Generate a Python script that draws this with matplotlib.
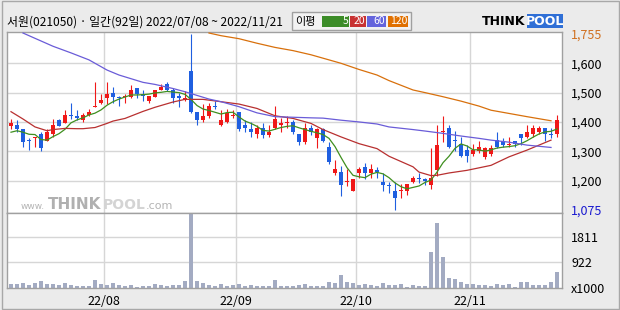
import matplotlib
matplotlib.use('Agg')
import matplotlib.pyplot as plt
from matplotlib.patches import Rectangle
import numpy as np
import pandas as pd

plt.rcParams['font.family'] = ['Noto Sans CJK KR', 'DejaVu Sans']

# trading days 2022/07/08 ~ 2022/11/21 (KRX holidays removed)
holidays = ['2022-08-15', '2022-09-09', '2022-09-12', '2022-10-03', '2022-10-10']
dates = pd.bdate_range('2022-07-08', '2022-11-21', freq='C', holidays=holidays)

opens = [1385, 1390, 1375, 1340, 1345, 1360, 1335, 1360, 1405, 1395, 1425, 1420, 1405, 1425, 1450, 1465,
         1480, 1500, 1485, 1485, 1485, 1515, 1495, 1470, 1485, 1510, 1530, 1510, 1490, 1475, 1575, 1435,
         1405, 1420, 1455, 1390, 1400, 1420, 1435, 1390, 1375, 1360, 1380, 1355, 1380, 1390, 1395, 1400,
         1360, 1330, 1380, 1345, 1375, 1315, 1225, 1230, 1195, 1155, 1225, 1245, 1225, 1235, 1195, 1180,
         1155, 1155, 1155, 1195, 1210, 1205, 1180, 1235, 1365, 1380, 1340, 1325, 1305, 1290, 1300, 1280,
         1290, 1340, 1335, 1320, 1335, 1360, 1350, 1360, 1365, 1380, 1360, 1360]
highs = [1410, 1405, 1375, 1345, 1350, 1365, 1375, 1410, 1410, 1440, 1465, 1440, 1430, 1445, 1535, 1495,
         1535, 1520, 1490, 1495, 1525, 1515, 1510, 1490, 1510, 1530, 1535, 1515, 1500, 1505, 1755, 1435,
         1460, 1465, 1470, 1440, 1445, 1440, 1435, 1405, 1400, 1390, 1395, 1390, 1455, 1415, 1420, 1405,
         1360, 1395, 1390, 1380, 1380, 1330, 1270, 1250, 1240, 1205, 1245, 1260, 1255, 1245, 1225, 1195,
         1195, 1185, 1185, 1215, 1225, 1210, 1310, 1390, 1420, 1390, 1370, 1350, 1320, 1325, 1335, 1315,
         1320, 1365, 1345, 1350, 1335, 1360, 1390, 1390, 1385, 1380, 1380, 1425]
lows = [1375, 1365, 1315, 1305, 1315, 1300, 1335, 1350, 1385, 1395, 1410, 1405, 1400, 1420, 1450, 1460,
        1460, 1465, 1455, 1465, 1480, 1480, 1470, 1465, 1485, 1510, 1505, 1465, 1450, 1470, 1430, 1390,
        1400, 1415, 1445, 1385, 1395, 1415, 1370, 1365, 1350, 1345, 1345, 1350, 1375, 1365, 1380, 1360,
        1320, 1325, 1355, 1310, 1330, 1255, 1220, 1135, 1175, 1155, 1210, 1205, 1210, 1210, 1155, 1145,
        1075, 1125, 1140, 1190, 1190, 1180, 1165, 1215, 1330, 1310, 1300, 1280, 1265, 1285, 1295, 1275,
        1285, 1310, 1315, 1315, 1315, 1320, 1345, 1350, 1360, 1335, 1345, 1350]
closes = [1395, 1375, 1330, 1335, 1350, 1310, 1365, 1390, 1385, 1425, 1420, 1415, 1425, 1435, 1455, 1475,
          1495, 1485, 1480, 1490, 1510, 1495, 1490, 1490, 1510, 1520, 1510, 1480, 1480, 1480, 1435, 1405,
          1420, 1455, 1450, 1405, 1430, 1425, 1375, 1380, 1365, 1380, 1355, 1365, 1410, 1395, 1400, 1365,
          1330, 1380, 1365, 1375, 1335, 1265, 1240, 1180, 1200, 1205, 1240, 1225, 1240, 1230, 1180, 1175,
          1125, 1160, 1185, 1210, 1205, 1200, 1210, 1320, 1370, 1315, 1335, 1285, 1285, 1305, 1315, 1310,
          1310, 1315, 1320, 1325, 1325, 1345, 1365, 1380, 1380, 1360, 1355, 1405]
volumes = [155, 155, 190, 119, 190, 262, 131, 155, 119, 190, 119, 83, 83, 83, 298, 155,
           119, 190, 119, 83, 119, 48, 83, 83, 155, 119, 83, 119, 119, 262, 2645, 262,
           190, 119, 83, 155, 83, 119, 155, 83, 119, 83, 83, 83, 298, 83, 83, 83,
           119, 155, 83, 83, 83, 226, 190, 476, 226, 190, 119, 155, 119, 83, 190, 119,
           119, 155, 48, 119, 83, 83, 1297, 2332, 1119, 369, 333, 226, 155, 155, 119, 119,
           83, 155, 119, 155, 48, 226, 226, 119, 119, 119, 226, 583]

# moving averages (earlier history is not in the window)
ma5_head = [1365, 1370, 1365, 1358]
ma20_idx = [0, 2, 4, 6, 7, 9, 11, 12, 14, 16, 17, 19, 21, 22, 24, 27, 29, 32, 35, 38, 41, 44, 47, 50, 52,
            55, 58, 61, 63, 67, 68, 70, 71, 73, 76, 80, 83, 86, 90]
ma20_val = [1435, 1410, 1383, 1370, 1374, 1378, 1377, 1377, 1381, 1395, 1403, 1412, 1428, 1436, 1450,
            1468, 1477, 1477, 1469, 1461, 1446, 1421, 1412, 1395, 1374, 1349, 1326, 1309, 1283, 1247,
            1229, 1217, 1218, 1226, 1235, 1252, 1281, 1304, 1338]
ma60_idx = [2, 4, 7, 10, 13, 16, 18, 22, 24, 27, 29, 33, 35, 38, 41, 44, 50, 52, 55, 58, 61, 63, 67, 69,
            72, 75, 78, 80, 83, 86, 90]
ma60_val = [1760, 1732, 1690, 1655, 1618, 1577, 1560, 1535, 1528, 1514, 1503, 1478, 1469, 1452, 1431,
            1418, 1414, 1413, 1406, 1400, 1393, 1383, 1374, 1369, 1361, 1352, 1344, 1338, 1331, 1321, 1313]
ma120_idx = [33, 35, 38, 41, 44, 47, 50, 53, 55, 58, 61, 63, 67, 69, 72, 75, 78, 80, 83, 86, 90]
ma120_val = [1760, 1746, 1730, 1706, 1684, 1667, 1645, 1618, 1600, 1579, 1560, 1541, 1509, 1500, 1486,
             1471, 1454, 1440, 1429, 1418, 1404]

price_ticks = [1075, 1200, 1300, 1400, 1500, 1600, 1755]
vol_ticks = [0, 922, 1811]

RED = '#f01818'
BLUE = '#1f5fe0'
BG = '#ebebeb'
GRID = '#d6d6d6'
EDGE = '#a0a0a0'

n = len(dates)
x = np.arange(n)
o = np.array(opens); h = np.array(highs); l = np.array(lows); c = np.array(closes)
ma5 = pd.Series(closes).rolling(5).mean().to_numpy()
ma5[:4] = ma5_head

# chart spaces the labelled prices evenly (extremes get one slot each)
knots = np.array([1075 - 125] + price_ticks + [1755 + 155], dtype=float)
slots = np.arange(-1, len(price_ticks) + 1, dtype=float)
def fwd(v):
    return np.interp(v, knots, slots, left=-1, right=len(price_ticks))
def inv(s):
    return np.interp(s, slots, knots)

def fx(px):
    return px / 620
def fy(py):
    return 1 - py / 310

fig = plt.figure(figsize=(6.2, 3.1), dpi=100, facecolor=BG)
ax = fig.add_axes([fx(7), fy(212.5), 555 / 620, 180.8 / 310])
axv = fig.add_axes([fx(7), fy(288), 555 / 620, 75.5 / 310], sharex=ax)

ax.set_yscale('function', functions=(fwd, inv))
ax.set_ylim(1064, 1767)
ax.set_xlim(-0.667, 91.83)

month_starts = [i for i in range(1, n) if dates[i].month != dates[i - 1].month]
for a in (ax, axv):
    a.set_facecolor('white')
    for i in month_starts:
        a.axvline(i - 0.5, color=GRID, lw=1, zorder=0)
    for s in a.spines.values():
        s.set_color(EDGE)
        s.set_linewidth(1)
for v in price_ticks[1:-1]:
    ax.axhline(v, color=GRID, lw=1, zorder=0)

up = c >= o
colors = np.where(up, RED, BLUE)
ax.vlines(x, l, h, colors=colors, lw=0.8, zorder=2)
bottoms = np.minimum(o, c)
heights = np.maximum(np.abs(c - o), 3)
ax.bar(x, heights, bottom=bottoms, width=0.8, color=colors, linewidth=0, zorder=3)

ax.plot(x, ma5, color='#3f8f1f', lw=0.9, zorder=4)
ax.plot(ma20_idx, ma20_val, color='#b83030', lw=0.9, zorder=4)
ax.plot(ma60_idx, ma60_val, color='#6a5cd8', lw=0.9, zorder=4)
ax.plot(ma120_idx, ma120_val, color='#d8700c', lw=0.9, zorder=4)

ax.yaxis.tick_right()
ax.set_yticks(price_ticks)
ax.set_yticklabels([f'{v:,}' for v in price_ticks])
ax.tick_params(axis='y', length=0, pad=6.5, labelsize=9)
ax.get_yticklabels()[0].set_color('#1a1ad0')
ax.get_yticklabels()[-1].set_color('#d07020')
ax.tick_params(axis='x', length=0, labelbottom=False)
ax.minorticks_off()

axv.bar(x, volumes, width=0.8, color='#a3abc2', linewidth=0, zorder=2)
axv.set_ylim(0, 2705)
for v in vol_ticks[1:]:
    axv.axhline(v, color=GRID, lw=1, zorder=0)
axv.yaxis.tick_right()
axv.set_yticks(vol_ticks)
axv.set_yticklabels(['x1000', '922', '1811'])
axv.tick_params(axis='y', length=0, pad=6.5, labelsize=9)
axv.set_xticks([i - 0.5 for i in month_starts])
axv.set_xticklabels([dates[i].strftime('%y/%m') for i in month_starts])
axv.tick_params(axis='x', length=0, pad=5, labelsize=9)

# title line
fig.text(fx(7), fy(22), '서원(021050) · 일간(92일) 2022/07/08 ~ 2022/11/21',
         fontsize=8.6, va='center', ha='left')

# moving average legend box
fig.patches.append(Rectangle((fx(292), fy(30)), fx(119), 17.7 / 310, transform=fig.transFigure,
                             facecolor='#f2f2f2', edgecolor=EDGE, lw=1))
fig.text(fx(295), fy(21.5), '이평', fontsize=8, va='center', ha='left')
legend_items = [('5', '#3c8c28', 322, 349), ('20', '#c83232', 350, 366),
                ('60', '#6464dc', 367, 386), ('120', '#e07000', 388, 408)]
for label, col, x0, x1 in legend_items:
    fig.patches.append(Rectangle((fx(x0), fy(27)), fx(x1 - x0), 11 / 310, transform=fig.transFigure,
                                 facecolor=col, edgecolor='none'))
    fig.text(fx(x1 - 1), fy(21.5), label, fontsize=7.5, color='white', va='center', ha='right')

# logo
fig.text(fx(482), fy(21.5), 'THINK', fontsize=9, fontweight='bold', family='DejaVu Sans',
         va='center', ha='left', color='black')
fig.patches.append(Rectangle((fx(527), fy(28)), fx(36), 13.5 / 310, transform=fig.transFigure,
                             facecolor='#2f6fd6', edgecolor='none'))
fig.text(fx(545), fy(21.5), 'POOL', fontsize=9, fontweight='bold', family='DejaVu Sans',
         va='center', ha='center', color='white')

# watermark
fig.text(fx(21), fy(209), 'www.', fontsize=6.5, color='#b4b4b4', family='DejaVu Sans', va='baseline')
fig.text(fx(48), fy(209), 'THINK', fontsize=11, fontweight='bold', color='#b0b0b0',
         family='DejaVu Sans', va='baseline')
fig.text(fx(102.5), fy(209), 'POOL', fontsize=10, fontweight='bold', color='#d4d4d4',
         family='DejaVu Sans', va='baseline')
fig.text(fx(146), fy(209), '.com', fontsize=8, color='#b4b4b4', family='DejaVu Sans', va='baseline')

# outer frame
fig.patches.append(Rectangle((fx(1.5), fy(308.5)), fx(617), 307.5 / 310, transform=fig.transFigure,
                             facecolor='none', edgecolor='#a8a8a8', lw=1))

fig.savefig('out.png', dpi=100, facecolor=BG)
